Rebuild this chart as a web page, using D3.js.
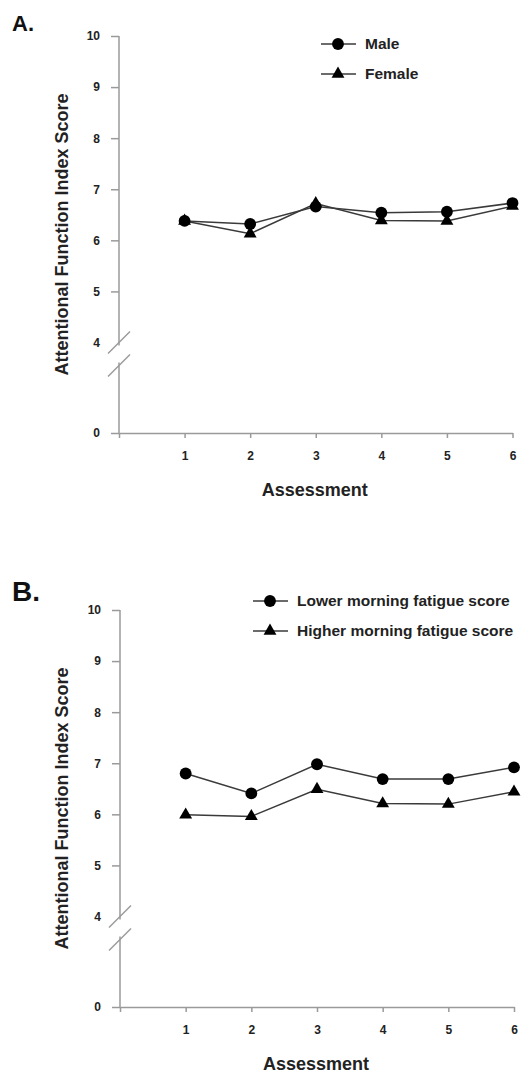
<!DOCTYPE html>
<html>
<head>
<meta charset="utf-8">
<script src="https://cdn.jsdelivr.net/npm/d3@7"></script>
<style>
  body { margin: 0; background: #fff; }
  svg { display: block; font-family: 'Liberation Sans', Arial, sans-serif; }
</style>
</head>
<body>
<div id="chart"></div>
<script>
// values
const assessments = [1, 2, 3, 4, 5, 6];
const xTicks = [0, 1, 2, 3, 4, 5, 6];
const yTicks = [0, 4, 5, 6, 7, 8, 9, 10];

const maleScores = [6.38, 6.32, 6.66, 6.54, 6.56, 6.73];
const femaleScores = [6.38, 6.13, 6.72, 6.39, 6.38, 6.67];

const lowerFatigueScores = [6.80, 6.41, 6.98, 6.69, 6.69, 6.92];
const higherFatigueScores = [5.99, 5.96, 6.49, 6.21, 6.20, 6.44];

const axisColor = '#9a9a9a';
const lineColor = '#3a3a3a';

let svg = d3.select('#chart')
  .append('svg')
  .attr('width', 521)
  .attr('height', 1076);

// one panel: broken y axis (0 .. 4 // 4 .. 10), two series with circle / triangle markers
function drawPanel(p) {
  let g = svg.append('g');

  let x = d3.scaleLinear().domain([0, 6]).range([p.left, p.right]);
  // piecewise scale gives the compressed segment below the break
  let y = d3.scaleLinear().domain([0, 4, 10]).range([p.bottom, p.bottom - 90.5, p.bottom - 397]);

  // y axis ticks and labels
  let yAxis = g.append('g')
    .attr('transform', 'translate(' + p.left + ',0)')
    .call(d3.axisLeft(y)
      .tickValues(yTicks)
      .tickSize(8)
      .tickSizeOuter(0)
      .tickPadding(11));
  yAxis.select('.domain').remove();
  yAxis.selectAll('.tick line')
    .attr('stroke', axisColor)
    .attr('stroke-width', 1.5)
    .filter(d => d === 4).remove();
  yAxis.selectAll('.tick text')
    .attr('fill', '#222')
    .attr('font-size', 12)
    .attr('font-weight', 'bold');

  // y axis line with a gap between the break marks
  let yBreak = y(4);
  g.append('line')
    .attr('x1', p.left).attr('x2', p.left)
    .attr('y1', y(10)).attr('y2', yBreak + 3)
    .attr('stroke', axisColor).attr('stroke-width', 1.5);
  g.append('line')
    .attr('x1', p.left).attr('x2', p.left)
    .attr('y1', yBreak + 20).attr('y2', y(0))
    .attr('stroke', axisColor).attr('stroke-width', 1.5);
  [0, 23].forEach(off => {
    g.append('line')
      .attr('x1', p.left - 11).attr('y1', yBreak + 11 + off)
      .attr('x2', p.left + 11).attr('y2', yBreak - 11 + off)
      .attr('stroke', axisColor).attr('stroke-width', 1.5);
  });

  // x axis
  let xAxis = g.append('g')
    .attr('transform', 'translate(0,' + p.bottom + ')')
    .call(d3.axisBottom(x)
      .tickValues(xTicks)
      .tickSize(5)
      .tickSizeOuter(0)
      .tickPadding(13)
      .tickFormat(d => d === 0 ? '' : d));
  xAxis.select('.domain').attr('stroke', axisColor).attr('stroke-width', 1.5);
  xAxis.selectAll('.tick line').attr('stroke', axisColor).attr('stroke-width', 1.5);
  xAxis.selectAll('.tick text')
    .attr('fill', '#222')
    .attr('font-size', 12)
    .attr('font-weight', 'bold');

  // axis titles
  g.append('text')
    .attr('x', (p.left + p.right) / 2 - 1)
    .attr('y', p.bottom + 63)
    .attr('text-anchor', 'middle')
    .attr('font-size', 18)
    .attr('font-weight', 'bold')
    .attr('fill', '#222')
    .text('Assessment');

  g.append('text')
    .attr('transform', 'rotate(-90)')
    .attr('x', -(y(0) + y(10)) / 2)
    .attr('y', 68)
    .attr('text-anchor', 'middle')
    .attr('font-size', 18)
    .attr('font-weight', 'bold')
    .attr('fill', '#222')
    .text('Attentional Function Index Score');

  // panel letter
  g.append('text')
    .attr('x', 12)
    .attr('y', p.letterY)
    .attr('font-size', p.letterSize)
    .attr('font-weight', 'bold')
    .attr('fill', '#111')
    .text(p.letter);

  let circle = d3.symbol().type(d3.symbolCircle).size(110);
  let triangle = d3.symbol().type(d3.symbolTriangle).size(72);

  let line = d3.line()
    .x((d, i) => x(assessments[i]))
    .y(d => y(d));

  let series = [
    {values: p.series2, symbol: triangle, name: p.names[1]},
    {values: p.series1, symbol: circle, name: p.names[0]}
  ];

  series.forEach(s => {
    g.append('path')
      .datum(s.values)
      .attr('fill', 'none')
      .attr('stroke', lineColor)
      .attr('stroke-width', 1.5)
      .attr('d', line);
    g.append('g')
      .selectAll('path')
      .data(s.values)
      .enter().append('path')
      .attr('transform', (d, i) => 'translate(' + x(assessments[i]) + ',' + y(d) + ')')
      .attr('fill', '#000')
      .attr('d', s.symbol);
  });

  // legend
  let legend = g.append('g')
    .selectAll('g')
    .data([series[1], series[0]])
    .enter().append('g')
    .attr('transform', (d, i) => 'translate(' + p.legendX + ',' + (p.legendY + i * 30) + ')');
  legend.append('line')
    .attr('x1', -17).attr('x2', 18)
    .attr('stroke', lineColor).attr('stroke-width', 1.5);
  legend.append('path')
    .attr('fill', '#000')
    .attr('d', d => d.symbol());
  legend.append('text')
    .attr('x', 27)
    .attr('dy', '0.35em')
    .attr('font-size', 15.5)
    .attr('font-weight', 'bold')
    .attr('fill', '#222')
    .text(d => d.name);
}

drawPanel({
  letter: 'A.', letterY: 31, letterSize: 22,
  left: 119, right: 512.5, bottom: 433,
  series1: maleScores, series2: femaleScores,
  names: ['Male', 'Female'],
  legendX: 338, legendY: 44
});

drawPanel({
  letter: 'B.', letterY: 601, letterSize: 28,
  left: 120, right: 514, bottom: 1007,
  series1: lowerFatigueScores, series2: higherFatigueScores,
  names: ['Lower morning fatigue score', 'Higher morning fatigue score'],
  legendX: 270, legendY: 601
});
</script>
</body>
</html>
